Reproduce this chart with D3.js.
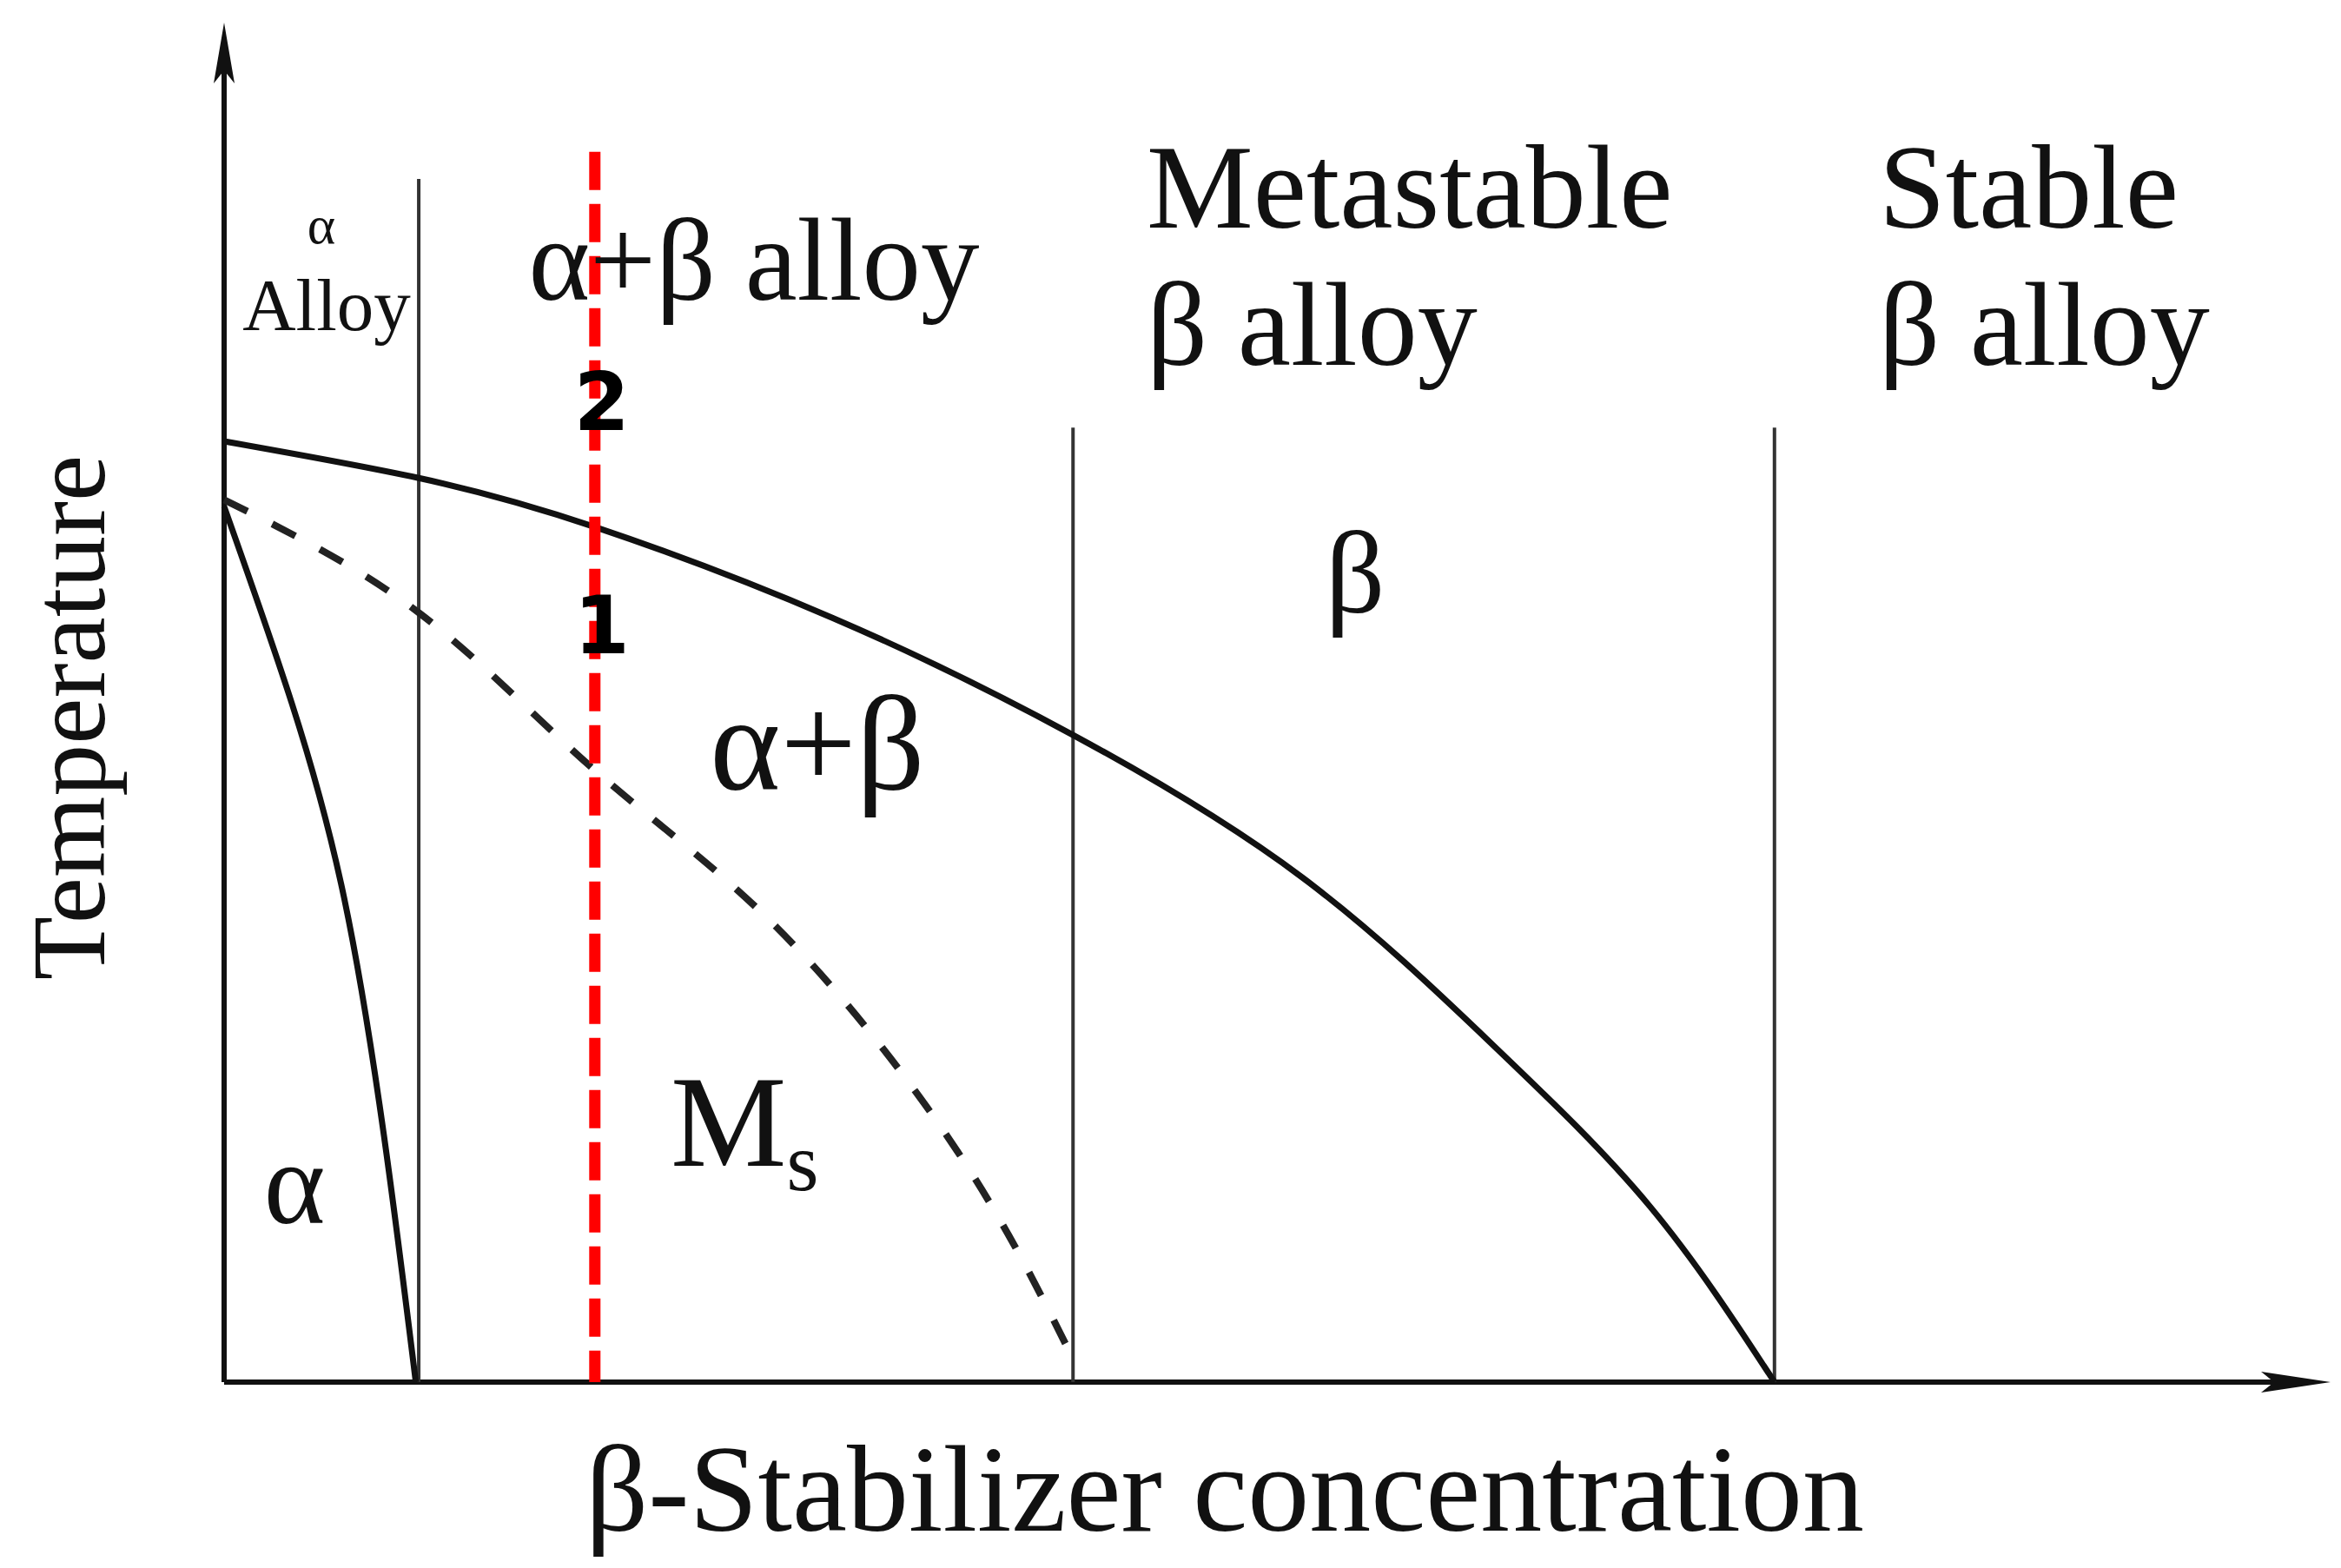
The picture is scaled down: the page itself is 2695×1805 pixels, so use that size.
<!DOCTYPE html>
<html><head><meta charset="utf-8">
<script src="https://cdn.jsdelivr.net/npm/d3@7"></script>
<style>body{margin:0;background:#fff}text{font-family:"Liberation Serif","Times New Roman",serif}</style>
</head><body><div id="chart"></div>
<script>
// concentration (0-100) vs temperature (0-100)
var transusX = [0, 9.24, 17.6, 28.9, 40.3, 51.2, 60.3, 67.7, 73.6],
    transusY = [69.2, 66.5, 62.9, 56.2, 47.6, 37.1, 24.7, 12.9, 0];
var msX = [0, 9.24, 17.6, 26.2, 34.8, 40.3],
    msY = [64.9, 56.6, 45.0, 33.5, 17.0, 1.7];
var solvusX = [0, 3.2, 5.7, 7.6, 9.1],
    solvusY = [64.4, 50, 35.6, 18, 0];
var borders = [{x: 9.24, top: 88.5}, {x: 40.3, top: 70.2}, {x: 73.6, top: 70.2}];
var cut = {x: 17.6, top: 90.5};

var width = 2695, height = 1805;
var x = d3.scaleLinear().domain([0, 100]).range([258, 2683]),
    y = d3.scaleLinear().domain([0, 100]).range([1591, 26]);

var svg = d3.select('#chart').append('svg').attr('width', width).attr('height', height);

function pts(xs, ys) { return xs.map(function(v, i) { return [v, ys[i]]; }); }
var line = d3.line().x(function(d) { return x(d[0]); }).y(function(d) { return y(d[1]); })
    .curve(d3.curveNatural);

// axes with arrows
svg.append('line').attr('x1', x(0)).attr('y1', y(0)).attr('x2', x(0)).attr('y2', y(98))
    .attr('stroke', '#111').attr('stroke-width', 6);
svg.append('line').attr('x1', x(0)).attr('y1', y(0)).attr('x2', x(98)).attr('y2', y(0))
    .attr('stroke', '#111').attr('stroke-width', 6);
svg.append('path').attr('d', 'M' + x(0) + ',' + y(100) + 'l-12,70l12,-15l12,15z').attr('fill', '#111');
svg.append('path').attr('d', 'M' + x(100) + ',' + y(0) + 'l-80,-12l15,12l-15,12z').attr('fill', '#111');

// region borders
svg.selectAll('.border').data(borders).enter().append('line')
    .attr('x1', function(d) { return x(d.x); }).attr('x2', function(d) { return x(d.x); })
    .attr('y1', function(d) { return y(d.top); }).attr('y2', y(0))
    .attr('stroke', '#333').attr('stroke-width', 4);

svg.append('path').attr('d', line(pts(transusX, transusY))).attr('fill', 'none')
    .attr('stroke', '#111').attr('stroke-width', 7);
svg.append('path').attr('d', line(pts(msX, msY))).attr('fill', 'none')
    .attr('stroke', '#222').attr('stroke-width', 8).attr('stroke-dasharray', '30,32');
svg.append('path').attr('d', line(pts(solvusX, solvusY))).attr('fill', 'none')
    .attr('stroke', '#111').attr('stroke-width', 7);

// red section line
svg.append('line').attr('x1', x(cut.x)).attr('x2', x(cut.x)).attr('y1', y(cut.top)).attr('y2', y(0))
    .attr('stroke', '#ff0000').attr('stroke-width', 13).attr('stroke-dasharray', '44,16');

var labels = [
  {t: 'α', x: 370, y: 280, s: 62},
  {t: 'Alloy', x: 376, y: 380, s: 85},
  {t: 'α+β alloy', x: 868, y: 345, s: 135},
  {t: 'Metastable', x: 1320, y: 262, s: 138, a: 'start'},
  {t: 'β alloy', x: 1320, y: 420, s: 138, a: 'start'},
  {t: 'Stable', x: 2163, y: 262, s: 138, a: 'start'},
  {t: 'β alloy', x: 2163, y: 420, s: 138, a: 'start'},
  {t: 'β', x: 1560, y: 705, s: 135},
  {t: 'α+β', x: 941, y: 908, s: 155},
  {t: 'α', x: 339, y: 1408, s: 135},
  {t: 'β-Stabilizer concentration', x: 1410, y: 1762, s: 142}
];
svg.selectAll('.lbl').data(labels).enter().append('text')
    .attr('x', function(d) { return d.x; }).attr('y', function(d) { return d.y; })
    .attr('font-size', function(d) { return d.s; })
    .attr('text-anchor', function(d) { return d.a || 'middle'; })
    .attr('fill', '#111').text(function(d) { return d.t; });

var ms = svg.append('text').attr('x', 772).attr('y', 1342).attr('font-size', 150).attr('fill', '#111');
ms.append('tspan').text('M');
ms.append('tspan').attr('font-size', 95).attr('dy', 28).text('s');

svg.append('text').attr('transform', 'translate(120,826) rotate(-90)')
    .attr('text-anchor', 'middle').attr('font-size', 120).attr('fill', '#111').text('Temperature');

svg.selectAll('.num').data([{t: '2', y: 495}, {t: '1', y: 752}]).enter().append('text')
    .attr('x', x(cut.x) + 8).attr('y', function(d) { return d.y; })
    .attr('text-anchor', 'middle').attr('font-size', 92).attr('font-weight', 'bold')
    .style('font-family', '"DejaVu Sans",sans-serif').attr('fill', '#000').text(function(d) { return d.t; });
</script></body></html>
